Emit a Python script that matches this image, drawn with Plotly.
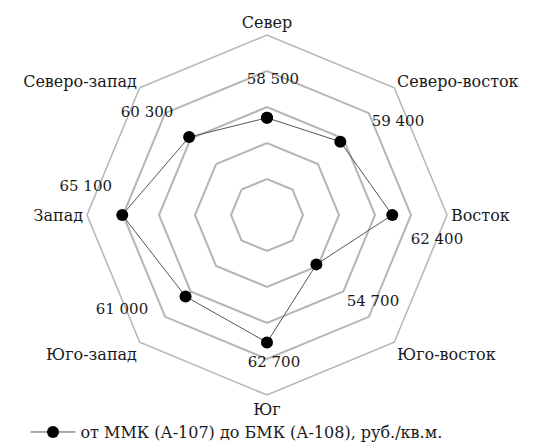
import plotly.graph_objects as go

# ---- data ----
categories = ["Север", "Северо-восток", "Восток", "Юго-восток",
              "Юг", "Юго-запад", "Запад", "Северо-запад"]
prices = [58500, 59400, 62400, 54700, 62700, 61000, 65100, 60300]
series_name = "от ММК (А-107) до БМК (А-108), руб./кв.м."

# radial axis
r_min, r_max, r_step = 45000, 70000, 5000

# value-label placement (polar anchor of each label: radius value, angle in degrees)
label_r = [63770, 67315, 68865, 64045, 65580, 69075, 66875, 66875]
label_theta = [2.5, 54.6, 98.4, 129.4, 177.3, 236.8, 280.2, 310.4]
label_pos = ["middle center"] * 6 + ["middle left", "middle center"]

labels = [f"{v:,}".replace(",", " ") for v in prices]

# page body has an 8px margin, so the figure is drawn at (8, 8)
W, H = 530, 440
FONT = "DejaVu Serif"
GRID = "#b5b5b5"
TXT = "#1a1a1a"

dom_x = [79 / W, 439 / W]

fig = go.Figure()

fig.add_trace(go.Scatterpolar(
    r=prices + [prices[0]],
    theta=categories + [categories[0]],
    mode="lines+markers",
    name=series_name,
    line=dict(color="#555555", width=1),
    marker=dict(color="black", size=12),
    subplot="polar",
))

fig.add_trace(go.Scatterpolar(
    r=label_r,
    theta=label_theta,
    mode="text",
    text=labels,
    textposition=label_pos,
    textfont=dict(family=FONT, size=15, color=TXT),
    showlegend=False,
    cliponaxis=False,
    hoverinfo="skip",
    subplot="polar2",
))

fig.update_layout(
    width=W, height=H,
    margin=dict(l=0, r=0, t=27, b=53, autoexpand=False),
    paper_bgcolor="white",
    plot_bgcolor="white",
    font=dict(family=FONT, size=16, color=TXT),
    polar=dict(
        domain=dict(x=dom_x, y=[0, 1]),
        gridshape="linear",
        bgcolor="white",
        radialaxis=dict(range=[r_min, r_max], tick0=r_min, dtick=r_step,
                        showticklabels=False, ticks="", showline=False,
                        gridcolor=GRID, gridwidth=1.5),
        angularaxis=dict(direction="clockwise", rotation=90, showgrid=False,
                         ticks="", showline=True, linecolor=GRID, linewidth=1.5,
                         tickfont=dict(family=FONT, size=16, color=TXT)),
    ),
    polar2=dict(
        domain=dict(x=dom_x, y=[0, 1]),
        bgcolor="rgba(0,0,0,0)",
        radialaxis=dict(range=[r_min, r_max], visible=False),
        angularaxis=dict(direction="clockwise", rotation=90, visible=False,
                         thetaunit="degrees"),
    ),
    showlegend=True,
    legend=dict(orientation="h", x=0.033, xanchor="left", y=-0.103,
                yanchor="middle", itemwidth=45,
                font=dict(family=FONT, size=16, color=TXT),
                bgcolor="rgba(0,0,0,0)"),
)

fig.write_html("out.html")
